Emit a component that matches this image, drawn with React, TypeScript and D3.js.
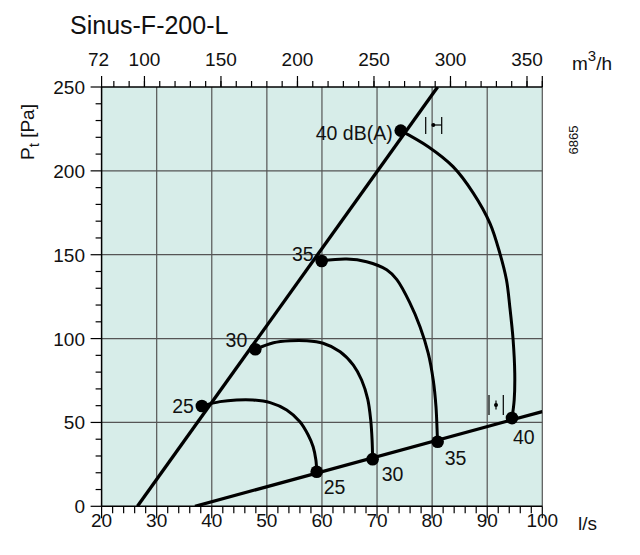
import React from "react";
import * as d3 from "d3";

const W = 640;
const H = 555;

const titleText = "Sinus-F-200-L";
const flowTicks = [20, 30, 40, 50, 60, 70, 80, 90, 100];
const pressureTicks = [0, 50, 100, 150, 200, 250];
const m3hTicks = [72, 100, 150, 200, 250, 300, 350];

// system lines [l/s, Pa]
const upperLine: [number, number][] = [[26.5, 0], [81.0, 250]];
const lowerLine: [number, number][] = [[36.95, 0], [100, 56.5]];

// sound level curves [l/s, Pa]
const curve25: [number, number][] = [[38.2, 59.8], [41.5, 62.4], [44.5, 63.4], [47.5, 63.4], [50.6, 61.8], [53.6, 57.4], [56.0, 50.4], [57.5, 42.5], [58.4, 35.5], [58.9, 27.6], [59.05, 20.6]];
const curve30: [number, number][] = [[47.9, 93.6], [51.2, 97.5], [54.2, 98.7], [57.2, 98.7], [60.2, 97.2], [63.3, 92.2], [65.7, 84.2], [67.2, 75.3], [68.3, 64.0], [68.85, 51.5], [69.1, 39.6], [69.2, 28.1]];
const curve35: [number, number][] = [[59.95, 146.3], [64.5, 147.4], [68.1, 145.8], [71.75, 141.0], [73.6, 135.1], [76.0, 121.0], [77.8, 107.1], [79.3, 91.2], [80.2, 75.3], [80.7, 59.4], [80.95, 41.5], [81.0, 38.5]];
const curve40: [number, number][] = [[74.3, 224.0], [79.3, 214.4], [83.8, 202.5], [87.5, 186.6], [90.5, 168.7], [92.3, 150.8], [93.5, 134.9], [94.1, 119.0], [94.7, 99.3], [95.0, 79.3], [94.9, 63.4], [94.5, 52.6]];
const curves = [curve25, curve30, curve35, curve40];

const upperLabels = ["25", "30", "35", "40 dB(A)"];
const lowerLabels = ["25", "30", "35", "40"];
const upperLabelDy = [0, -9, -7, 2];
const lowerLabelDx = [7, 9, 7, 1];
const lowerLabelDy = [15, 15, 16, 19];

const FONT = "'Liberation Sans', Arial, sans-serif";

export default function App() {
  const x = d3.scaleLinear().domain([20, 100]).range([101.6, 542.3]);
  const y = d3.scaleLinear().domain([0, 250]).range([506.3, 87]);
  const [x0, x1] = x.range();
  const [y0, y1] = y.range();

  const line = d3.line<[number, number]>().x((d) => x(d[0])).y((d) => y(d[1]));
  const smooth = d3
    .line<[number, number]>()
    .x((d) => x(d[0]))
    .y((d) => y(d[1]))
    .curve(d3.curveCatmullRom.alpha(0.5));

  const minorX = d3.range(20, 100.001, 2);
  const minorY = d3.range(0, 250.001, 10);
  const minorM3h = d3.range(80, 360.001, 10);

  const upperDots = curves.map((c) => c[0]);
  const lowerDots = curves.map((c) => c[c.length - 1]);

  return (
    <svg
      width={W}
      height={H}
      style={{ position: "absolute", left: 0, top: 0, background: "#fff" }}
      fontFamily={FONT}
    >
      <defs>
        <clipPath id="plot">
          <rect x={x0} y={y1} width={x1 - x0} height={y0 - y1} />
        </clipPath>
      </defs>
      <rect x={0} y={0} width={W} height={H} fill="#fff" />
      <text x={70} y={34} fontSize={25} fill="#111">
        {titleText}
      </text>

      <rect x={x0} y={y1} width={x1 - x0} height={y0 - y1} fill="#d7ede9" />

      {/* grid */}
      {flowTicks.slice(1).map((t) => (
        <line key={"gx" + t} x1={x(t)} x2={x(t)} y1={y1} y2={y0} stroke="#555" strokeWidth={1.2} />
      ))}
      {pressureTicks.slice(1, -1).map((t) => (
        <line key={"gy" + t} x1={x0} x2={x1} y1={y(t)} y2={y(t)} stroke="#555" strokeWidth={1.2} />
      ))}

      {/* axes lines */}
      <line x1={x0} x2={x1} y1={y0} y2={y0} stroke="#000" strokeWidth={1.5} />
      <line x1={x0} x2={x1} y1={y1} y2={y1} stroke="#000" strokeWidth={1.5} />
      <line x1={x0} x2={x0} y1={y1} y2={y0} stroke="#000" strokeWidth={1.5} />

      {/* bottom ticks */}
      {minorX.map((t) => {
        const major = Math.abs(t % 10) < 1e-6;
        return <line key={"bt" + t} x1={x(t)} x2={x(t)} y1={y0} y2={y0 + (major ? 12 : 7)} stroke="#000" strokeWidth={1.2} />;
      })}
      {flowTicks.map((t) => (
        <text key={"bl" + t} x={x(t)} y={527} fontSize={19} textAnchor="middle" fill="#111">
          {t}
        </text>
      ))}
      <text x={578} y={530} fontSize={19} fill="#111">l/s</text>

      {/* left ticks */}
      {minorY.map((t) => {
        const major = Math.abs(t % 50) < 1e-6;
        return <line key={"lt" + t} x1={x0 - (major ? 11 : 6)} x2={x0} y1={y(t)} y2={y(t)} stroke="#000" strokeWidth={1.2} />;
      })}
      {pressureTicks.map((t) => (
        <text key={"ll" + t} x={85} y={y(t) + 7} fontSize={19} textAnchor="end" fill="#111">
          {t}
        </text>
      ))}
      <text transform={`translate(34,132) rotate(-90)`} fontSize={19} textAnchor="middle" fill="#111">
        P<tspan dy={5} fontSize={15}>t</tspan>
        <tspan dy={-5}> [Pa]</tspan>
      </text>

      {/* top ticks (m3/h) */}
      {minorM3h.map((m) => (
        <line key={"tt" + m} x1={x(m / 3.6)} x2={x(m / 3.6)} y1={y1} y2={y1 - 6} stroke="#000" strokeWidth={1.2} />
      ))}
      {m3hTicks.map((m) => (
        <line key={"tm" + m} x1={x(m / 3.6)} x2={x(m / 3.6)} y1={y1} y2={y1 - 11} stroke="#000" strokeWidth={1.2} />
      ))}
      <line x1={x1} x2={x1} y1={y1} y2={y1 - 11} stroke="#000" strokeWidth={1.2} />
      {m3hTicks.map((m, i) => (
        <text key={"tl" + m} x={x(m / 3.6) - (i === 0 ? 3 : 0)} y={66} fontSize={19} textAnchor="middle" fill="#111">
          {m}
        </text>
      ))}
      <text x={572} y={70} fontSize={19} fill="#111">
        m<tspan dy={-9} fontSize={15}>3</tspan>
        <tspan dy={9}>/h</tspan>
      </text>

      <text transform={`translate(578,140) rotate(-90)`} fontSize={13} textAnchor="middle" fill="#111">
        6865
      </text>

      {/* system lines and curves */}
      <g clipPath="url(#plot)">
        <path d={line(upperLine) || ""} fill="none" stroke="#000" strokeWidth={3.3} />
        <path d={line(lowerLine) || ""} fill="none" stroke="#000" strokeWidth={3.3} />
        {curves.map((c, i) => (
          <path key={"c" + i} d={smooth(c) || ""} fill="none" stroke="#000" strokeWidth={3} />
        ))}
      </g>
      {upperDots.map((d, i) => (
        <circle key={"ud" + i} cx={x(d[0])} cy={y(d[1])} r={6.3} fill="#000" />
      ))}
      {lowerDots.map((d, i) => (
        <circle key={"ld" + i} cx={x(d[0])} cy={y(d[1])} r={6.3} fill="#000" />
      ))}
      {upperDots.map((d, i) => (
        <text key={"ul" + i} x={x(d[0]) - 8} y={y(d[1]) + upperLabelDy[i] + 7} fontSize={19.5} textAnchor="end" fill="#111">
          {upperLabels[i]}
        </text>
      ))}
      {lowerDots.map((d, i) => (
        <text key={"lbl" + i} x={x(d[0]) + lowerLabelDx[i]} y={y(d[1]) + lowerLabelDy[i] + 7} fontSize={19.5} fill="#111">
          {lowerLabels[i]}
        </text>
      ))}

      {/* tolerance symbols */}
      <g stroke="#000" strokeWidth={1.2}>
        <line x1={425.7} x2={425.7} y1={117} y2={134} />
        <line x1={441.7} x2={441.7} y1={117} y2={134} />
        <line x1={433.3} x2={441.7} y1={125} y2={125} />
        <line x1={489} x2={489} y1={395} y2={415} />
        <line x1={503.3} x2={503.3} y1={395} y2={415} />
        <line x1={496} x2={496} y1={400.5} y2={409.5} />
      </g>
      <circle cx={433.3} cy={125} r={2} fill="#000" />
      <circle cx={496} cy={405} r={2} fill="#000" />
    </svg>
  );
}
